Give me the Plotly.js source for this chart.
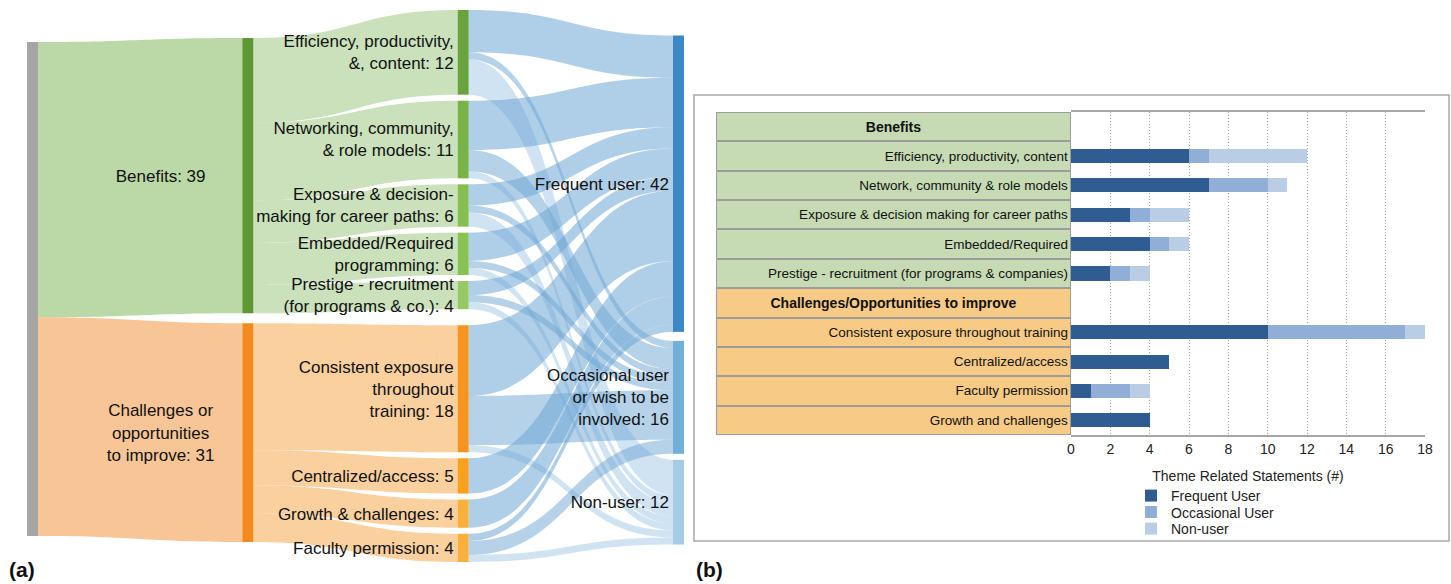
<!DOCTYPE html>
<html><head><meta charset="utf-8">
<script src="https://cdn.plot.ly/plotly-3.0.1.min.js"></script>
<style>body{margin:0;background:#fff}#chart{width:1451px;height:584px}</style>
</head><body><div id="chart"></div>
<script>
// ---------- (a) Sankey data ----------
const groupLabels = ['Benefits', 'Challenges or<br>opportunities<br>to improve'];
const sankeyThemes = ['Efficiency, productivity,<br>&, content', 'Networking, community,<br>& role models',
  'Exposure & decision-<br>making for career paths', 'Embedded/Required<br>programming',
  'Prestige - recruitment<br>(for programs & co.)', 'Consistent exposure<br>throughout<br>training',
  'Centralized/access', 'Growth & challenges', 'Faculty permission'];
const sankeyThemeGroup = [0, 0, 0, 0, 0, 1, 1, 1, 1];
const userLabels = ['Frequent user', 'Occasional user<br>or wish to be<br>involved', 'Non-user'];
const sankeyFrequent   = [6, 7, 3, 4, 2, 10, 5, 4, 1];
const sankeyOccasional = [1, 3, 1, 1, 1, 7, 0, 0, 2];
const sankeyNonUser    = [5, 1, 2, 1, 1, 1, 0, 0, 1];

// ---------- (b) bar chart data ----------
const tableHeaders = ['Benefits', 'Challenges/Opportunities to improve'];
const barCategories = ['Efficiency, productivity, content', 'Network, community & role models',
  'Exposure & decision making for career paths', 'Embedded/Required',
  'Prestige - recruitment (for programs & companies)', 'Consistent exposure throughout training',
  'Centralized/access', 'Faculty permission', 'Growth and challenges'];
const barGroup = [0, 0, 0, 0, 0, 1, 1, 1, 1];
const barFrequent   = [6, 7, 3, 4, 2, 10, 5, 1, 4];
const barOccasional = [1, 3, 1, 1, 1, 7, 0, 2, 0];
const barNonUser    = [5, 1, 2, 1, 1, 1, 0, 1, 0];
const seriesNames = ['Frequent User', 'Occasional User', 'Non-user'];
const xTicks = [0, 2, 4, 6, 8, 10, 12, 14, 16, 18];

// ---------- styles ----------
const FONT = 'Liberation Sans, Arial, sans-serif';
const W = 1451, H = 584;
const groupNodeColors = ['#5f9734', '#f28a1e'];
const themeNodeColors = ['#69a33b', '#77b346', '#84bf4f', '#88c253', '#96c964', '#f7941d', '#f9a01c', '#fbb03b', '#fbb03b'];
const userNodeColors = ['#3d87c4', '#72afd9', '#a6cce5'];
const rootLinkColors = ['rgba(150,195,120,0.65)', 'rgba(244,160,80,0.6)'];
const themeLinkColors = ['rgba(150,195,120,0.5)', 'rgba(246,170,80,0.55)'];
const userLinkColors = ['rgba(110,165,212,0.55)', 'rgba(110,165,212,0.5)', 'rgba(150,192,228,0.45)'];
const barColors = ['#305d91', '#91afd6', '#b9cde4'];
const tableColors = ['#c6dbb4', '#f7ca86'];

// ---------- build sankey ----------
const userSeries = [sankeyFrequent, sankeyOccasional, sankeyNonUser];
const themeTotals = sankeyThemes.map((_, i) => userSeries.reduce((s, a) => s + a[i], 0));
const groupTotals = groupLabels.map((_, g) => themeTotals.reduce((s, v, i) => s + (sankeyThemeGroup[i] === g ? v : 0), 0));
const userTotals = userSeries.map(a => a.reduce((s, v) => s + v, 0));
const grandTotal = groupTotals.reduce((s, v) => s + v, 0);

const nodeLabels = [''].concat(
  groupLabels.map((l, g) => l + ': ' + groupTotals[g]),
  sankeyThemes.map((l, i) => l + ': ' + themeTotals[i]),
  userLabels.map((l, u) => l + ': ' + userTotals[u]));
const nodeColors = ['#a5a5a5'].concat(groupNodeColors, themeNodeColors, userNodeColors);
const G0 = 1, T0 = 1 + groupLabels.length, U0 = T0 + sankeyThemes.length;
const src = [], tgt = [], val = [], lcol = [];
groupLabels.forEach((_, g) => { src.push(0); tgt.push(G0 + g); val.push(groupTotals[g]); lcol.push(rootLinkColors[g]); });
sankeyThemes.forEach((_, i) => { src.push(G0 + sankeyThemeGroup[i]); tgt.push(T0 + i); val.push(themeTotals[i]); lcol.push(themeLinkColors[sankeyThemeGroup[i]]); });
sankeyThemes.forEach((_, i) => userSeries.forEach((a, u) => {
  if (a[i] > 0) { src.push(T0 + i); tgt.push(U0 + u); val.push(a[i]); lcol.push(userLinkColors[u]); }
}));

// node placement (ordered columns), in pixels of the sankey domain
const DX0 = 27, DX1 = 684, DY0 = 10, DY1 = 562;
const DW = DX1 - DX0, DH = DY1 - DY0, THICK = 11;
const COL_STEP = (DW - THICK) / 3;
const GAP_IN = 6, GAP_BETWEEN = 16, GAP_OTHER = 9;
const NODE_PAD = (GAP_IN * 7 + GAP_BETWEEN) / 8;          // plotly's pad -> sets the value scale
const ky = (DH - 8 * NODE_PAD) / grandTotal;              // same scale plotly derives
function placeColumn(values, gaps, shift) {
  const total = values.reduce((s, v) => s + v * ky, 0) + gaps.reduce((s, g) => s + g, 0);
  let y = (DH - total) / 2 + shift;
  return values.map((v, i) => { const c = y + v * ky / 2; y += v * ky + (gaps[i] || 0); return c / DH; });
}
const colX = c => (c * COL_STEP + THICK / 2) / DW;
const themeGaps = sankeyThemeGroup.slice(1).map((g, i) => g === sankeyThemeGroup[i] ? GAP_IN : GAP_BETWEEN);
const nodeX = [colX(0)].concat(groupTotals.map(() => colX(1)), themeTotals.map(() => colX(2)), userTotals.map(() => colX(3)));
const nodeY = [].concat(placeColumn([grandTotal], [], 3),
  placeColumn(groupTotals, [10], 4),
  placeColumn(themeTotals, themeGaps, 0),
  placeColumn(userTotals, [GAP_OTHER, 6], 4));

const sankey = {
  type: 'sankey', arrangement: 'freeform',
  domain: {x: [DX0 / W, DX1 / W], y: [1 - DY1 / H, 1 - DY0 / H]},
  node: {label: nodeLabels, color: nodeColors, x: nodeX, y: nodeY, pad: NODE_PAD, thickness: THICK, line: {width: 0}, hoverinfo: 'skip'},
  link: {source: src, target: tgt, value: val, color: lcol, hoverinfo: 'skip'},
  textfont: {family: FONT, size: 17, color: '#111', shadow: 'none'}
};

// ---------- build bar chart ----------
const rowOrder = [tableHeaders[0]].concat(barCategories.filter((_, i) => barGroup[i] === 0),
  [tableHeaders[1]], barCategories.filter((_, i) => barGroup[i] === 1));

const tableItems = {
  type: 'bar', orientation: 'h', xaxis: 'x2', yaxis: 'y',
  y: barCategories, x: barCategories.map(() => 1), width: 1,
  marker: {color: barGroup.map(g => tableColors[g]), line: {color: '#9c9c9c', width: 2}},
  text: barCategories, textposition: 'inside', insidetextanchor: 'end', textangle: 0,
  textfont: {family: FONT, size: 13.5, color: '#111'},
  hoverinfo: 'skip', showlegend: false
};
const tableHead = {
  type: 'bar', orientation: 'h', xaxis: 'x2', yaxis: 'y',
  y: tableHeaders, x: tableHeaders.map(() => 1), width: 1,
  marker: {color: tableColors, line: {color: '#9c9c9c', width: 2}},
  text: tableHeaders.map(t => '<b>' + t + '</b>'), textposition: 'inside', insidetextanchor: 'middle', textangle: 0,
  textfont: {family: FONT, size: 14, color: '#111'},
  hoverinfo: 'skip', showlegend: false
};
const legendIds = ['legend', 'legend2', 'legend3'];
const barSeries = [barFrequent, barOccasional, barNonUser].map((vals, k) => ({
  type: 'bar', orientation: 'h', xaxis: 'x', yaxis: 'y', legend: legendIds[k],
  name: seriesNames[k], y: barCategories, x: vals, width: 0.48,
  marker: {color: barColors[k], line: {width: 0}}, hoverinfo: 'skip'
}));

// one legend per series so the entries sit as tightly as in the reference
const legendRowsY = [496, 512.5, 529];
const legendBase = {x: 1131 / W, xanchor: 'left', yanchor: 'middle', font: {size: 14, color: '#222'},
  bgcolor: 'rgba(0,0,0,0)', borderwidth: 0, itemwidth: 30};

const layout = {
  width: W, height: H, margin: {l: 0, r: 0, t: 0, b: 0},
  paper_bgcolor: '#fff', plot_bgcolor: 'rgba(0,0,0,0)',
  barmode: 'stack', showlegend: true,
  font: {family: FONT, color: '#222'},
  xaxis: {domain: [1071 / W, 1425 / W], range: [0, 18], tickvals: xTicks, ticktext: xTicks.map(String),
    showgrid: true, gridcolor: '#a8a8a8', griddash: '1px,2px', gridwidth: 1, zeroline: false,
    showline: true, linecolor: '#a6a6a6', linewidth: 2, mirror: true, ticks: '',
    tickfont: {size: 14, color: '#222'}, anchor: 'y', fixedrange: true,
    title: {text: 'Theme Related Statements (#)', font: {size: 14, color: '#222'}, standoff: 15}},
  xaxis2: {domain: [716 / W, 1071 / W], range: [0, 1], visible: false, anchor: 'y', fixedrange: true},
  yaxis: {domain: [1 - 435 / H, 1 - 112 / H], type: 'category', categoryorder: 'array', categoryarray: rowOrder,
    range: [rowOrder.length - 0.5, -0.5], showticklabels: false, showgrid: false, zeroline: false, ticks: '', fixedrange: true},
  shapes: [{type: 'rect', xref: 'paper', yref: 'paper', x0: 694 / W, x1: 1449 / W, y0: 1 - 541 / H, y1: 1 - 95 / H,
    line: {color: '#a8a8a8', width: 1.5}, fillcolor: 'rgba(0,0,0,0)', layer: 'below'}],
  annotations: [
    {text: '<b>(a)</b>', xref: 'paper', yref: 'paper', x: 7 / W, y: 1 - 569 / H, xanchor: 'left', yanchor: 'middle', showarrow: false, font: {size: 21, color: '#111'}},
    {text: '<b>(b)</b>', xref: 'paper', yref: 'paper', x: 694 / W, y: 1 - 569 / H, xanchor: 'left', yanchor: 'middle', showarrow: false, font: {size: 21, color: '#111'}}
  ]
};
legendIds.forEach((id, k) => { layout[id] = Object.assign({}, legendBase, {y: 1 - legendRowsY[k] / H}); });

// sankey labels sit on the left of their node as in the reference;
// the two group labels are centred in their wide band
const GROUP_LABEL_SHIFT = -(COL_STEP - THICK) * 0.4;
function labelsLeft() {
  document.querySelectorAll('.sankey-node .node-label').forEach(function (el) {
    if (el.getAttribute('data-moved')) return;
    const d = el.__data__ || {};
    const idx = d.node ? d.node.pointNumber : -1;
    const isGroup = idx >= G0 && idx < T0;
    const tr = el.getAttribute('transform') || '';
    const m = /translate\(\s*([-\d.e]+)[\s,]+([-\d.e]+)\s*\)/.exec(tr);
    const anchor = isGroup ? 'middle' : 'end';
    const nx = isGroup ? GROUP_LABEL_SHIFT : -4;
    el.setAttribute('text-anchor', anchor);
    el.style.textAnchor = anchor;
    if (m) el.setAttribute('transform', tr.replace(m[0], 'translate(' + nx + ',' + m[2] + ')'));
    el.setAttribute('data-moved', '1');
  });
}

Plotly.newPlot('chart', [sankey, tableItems, tableHead].concat(barSeries), layout, {displayModeBar: false, staticPlot: true})
  .then(function () { labelsLeft(); setTimeout(labelsLeft, 30); setTimeout(labelsLeft, 700); });
</script>
</body></html>
